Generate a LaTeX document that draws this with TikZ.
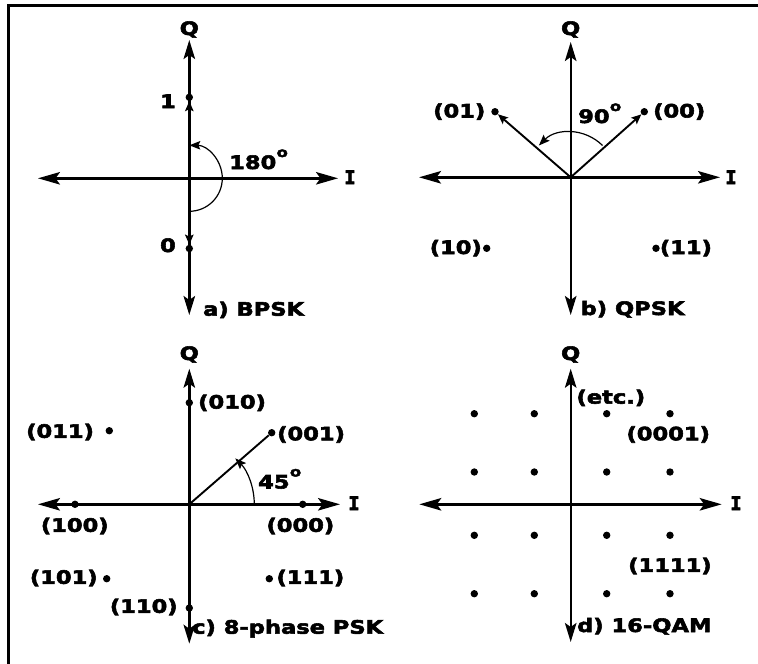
\documentclass[tikz,border=0pt]{standalone}
\usepackage{fontspec}
\setmainfont{DejaVu Sans}[FakeStretch=1.22,BoldFeatures={FakeBold=3}]
\newfontfamily\monoI{DejaVu Sans Mono}[BoldFeatures={FakeBold=3}]
\usetikzlibrary{arrows.meta}
\newcommand\dgo{\kern0.3pt\raisebox{12pt}{\fontsize{13.5}{14}\selectfont o}}
\begin{document}
\begin{tikzpicture}[x=1pt,y=-1pt,
  vaxis/.style={line width=2.4pt,{Stealth[length=19pt,width=11.5pt,inset=4pt]}-{Stealth[length=19pt,width=11.5pt,inset=4pt]}},
  haxis/.style={line width=2.4pt,{Stealth[length=22pt,width=12.5pt,inset=4.5pt]}-{Stealth[length=22pt,width=12.5pt,inset=4.5pt]}},
  sdot/.style={circle,fill,inner sep=0pt,minimum size=7.4pt},
  vec/.style={line width=1.9pt,-{Stealth[length=10pt,width=8.5pt,inset=2pt]}},
  seg/.style={line width=1.9pt},
  angarc/.style={line width=1.2pt,-{Stealth[length=11pt,width=8.5pt,inset=2pt]}},
  lbl/.style={inner sep=0pt,font=\fontsize{18.5}{20}\selectfont\bfseries},
  ilbl/.style={inner sep=0pt,font=\fontsize{18.5}{20}\selectfont\monoI\bfseries},
]
\useasboundingbox (0,0) rectangle (758,664);
\draw[line width=2.7pt] (8.7,664) -- (8.7,5.5) -- (758,5.5);

% ---------------- a) BPSK
\coordinate (a0) at (189.3,178.3);
\coordinate (aT) at (189.3,40);
\coordinate (aB) at (189.3,315);
\coordinate (aL) at (38,178.3);
\coordinate (aR) at (338,178.3);
\draw[vaxis] (aT) -- (aB);
\draw[haxis] (aL) -- (aR);
\node[lbl,anchor=base] (aQ) at (189.3,35) {Q};
\node[ilbl,anchor=base] (aI) at (350,184) {I};
\node[sdot] (a1) at (189.3,97.3) {};
\node[sdot] (a2) at (189.3,248.5) {};
\draw[vec] (a0) -- (a1);
\draw[vec] (a0) -- (a2);
\node[lbl,anchor=base east] (a1l) at (176,108) {1};
\node[lbl,anchor=base east] (a2l) at (176,252) {0};
\draw[angarc] ([shift={(-90:33pt)}]a0) arc[start angle=-90,end angle=90,radius=33pt];
\node[lbl,anchor=base west] (aang) at (229,169) {180\dgo};
\node[lbl,anchor=base west] (atitle) at (203,315.7) {a) BPSK};

% ---------------- b) QPSK
\coordinate (b0) at (570.7,177.3);
\coordinate (bT) at (570.7,42);
\coordinate (bB) at (570.7,315);
\coordinate (bL) at (419,177.3);
\coordinate (bR) at (720,177.3);
\draw[vaxis] (bT) -- (bB);
\draw[haxis] (bL) -- (bR);
\node[lbl,anchor=base] (bQ) at (570.7,35) {Q};
\node[ilbl,anchor=base] (bI) at (731,184) {I};
\node[sdot] (b00) at (644.3,111.7) {};
\node[sdot] (b01) at (495,111.7) {};
\node[sdot] (b10) at (486.7,248.3) {};
\node[sdot] (b11) at (656,248.3) {};
\draw[vec] (b0) -- (b00);
\draw[vec] (b0) -- (b01);
\node[lbl,anchor=base east] (b01l) at (485.5,117.5) {(01)};
\node[lbl,anchor=base west] (b00l) at (653,117.5) {(00)};
\node[lbl,anchor=base east] (b10l) at (482,254) {(10)};
\node[lbl,anchor=base west] (b11l) at (659.7,254) {(11)};
\draw[angarc] ([shift={(45:45pt)}]b0) arc[start angle=45,end angle=135,radius=45pt];
\node[lbl,anchor=base west] (bang) at (578,123) {90\dgo};
\node[lbl,anchor=base west] (btitle) at (580.5,315) {b) QPSK};

% ---------------- c) 8-phase PSK
\coordinate (c0) at (189.3,504.3);
\coordinate (cT) at (189.3,368.7);
\coordinate (cB) at (189.3,643.7);
\coordinate (cL) at (38,504.3);
\coordinate (cR) at (340,504.3);
\draw[vaxis] (cT) -- (cB);
\draw[haxis] (cL) -- (cR);
\node[lbl,anchor=base] (cQ) at (189.3,360) {Q};
\node[ilbl,anchor=base] (cI) at (354,510) {I};
\node[sdot] (c010) at (189.3,402.7) {};
\node[sdot] (c001) at (271.7,432.7) {};
\node[sdot] (c011) at (109.3,430.7) {};
\node[sdot] (c100) at (75,504.3) {};
\node[sdot] (c000) at (302.7,504.3) {};
\node[sdot] (c101) at (106.7,578.7) {};
\node[sdot] (c111) at (269.3,578.7) {};
\node[sdot] (c110) at (189.3,608) {};
\draw[seg] (c0) -- (c001);
\node[lbl,anchor=base west] (c010l) at (198,408.6) {(010)};
\node[lbl,anchor=base west] (c011l) at (26,437.8) {(011)};
\node[lbl,anchor=base west] (c001l) at (277,440.3) {(001)};
\node[lbl,anchor=base west] (c100l) at (40.7,531.8) {(100)};
\node[lbl,anchor=base west] (c000l) at (266.3,531.8) {(000)};
\node[lbl,anchor=base west] (c101l) at (29.7,583.8) {(101)};
\node[lbl,anchor=base west] (c111l) at (276.3,583.8) {(111)};
\node[lbl,anchor=base west] (c110l) at (109.7,612.8) {(110)};
\draw[angarc] ([shift={(0:65pt)}]c0) arc[start angle=0,end angle=45,radius=65pt];
\node[lbl,anchor=base west] (cang) at (258,488.5) {45\dgo};
\node[lbl,anchor=base west] (ctitle) at (192,633.7) {c) 8-phase PSK};

% ---------------- d) 16-QAM
\coordinate (d0) at (570.7,504.3);
\coordinate (dT) at (570.7,368.7);
\coordinate (dB) at (570.7,642);
\coordinate (dL) at (419.3,504.3);
\coordinate (dR) at (721.7,504.3);
\draw[vaxis] (dT) -- (dB);
\draw[haxis] (dL) -- (dR);
\node[lbl,anchor=base] (dQ) at (570.7,360) {Q};
\node[ilbl,anchor=base] (dI) at (736,510) {I};
\foreach \xx [count=\i] in {474.3,534.3,606.7,670}{
  \foreach \yy [count=\j] in {413.7,472,535.3,593.7}{
    \node[sdot] (q\i\j) at (\xx,\yy) {};
  }
}
\node[lbl,anchor=base west] (detc) at (576.3,403.6) {(etc.)};
\node[lbl,anchor=base west] (d0001) at (626.3,440.3) {(0001)};
\node[lbl,anchor=base west] (d1111) at (628,571.8) {(1111)};
\node[lbl,anchor=base west] (dtitle) at (577,632) {d) 16-QAM};
\end{tikzpicture}
\end{document}
